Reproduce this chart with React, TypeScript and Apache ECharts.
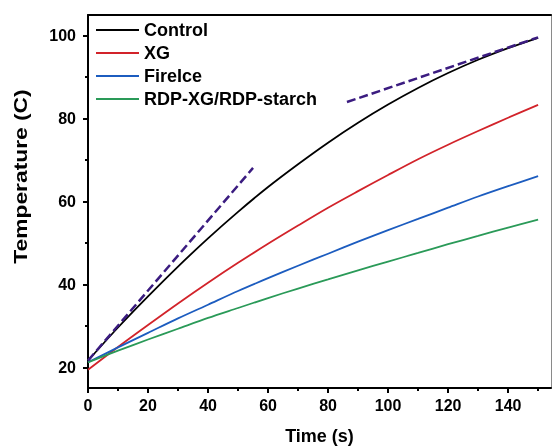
import React, { useEffect, useRef } from "react";
import * as echarts from "echarts";

const time = [0, 10, 20, 30, 40, 50, 60, 70, 80, 90, 100, 110, 120, 130, 140, 150];
const control = [21.6, 29.6, 37.1, 44.3, 51.1, 57.5, 63.5, 69.0, 74.2, 79.0, 83.4, 87.4, 91.0, 94.2, 97.0, 99.5];
const xg = [19.4, 24.9, 30.2, 35.4, 40.4, 45.2, 49.8, 54.2, 58.5, 62.5, 66.4, 70.2, 73.7, 77.0, 80.2, 83.3];
const fireIce = [21.2, 24.8, 28.3, 31.8, 35.1, 38.4, 41.5, 44.5, 47.4, 50.3, 53.1, 55.8, 58.5, 61.2, 63.7, 66.1];
const rdp = [21.2, 24.0, 26.7, 29.3, 31.9, 34.3, 36.7, 39.0, 41.2, 43.4, 45.5, 47.6, 49.7, 51.7, 53.7, 55.6];

const tangentEarly = [[0, 21.6], [55, 68.1]];
const tangentLate = [[86.3, 84.0], [150, 99.6]];

const xMajorTicks = [0, 20, 40, 60, 80, 100, 120, 140];
const xMinorTicks = [10, 30, 50, 70, 90, 110, 130, 150];
const yMajorTicks = [20, 40, 60, 80, 100];
const yMinorTicks = [30, 50, 70, 90];

const seriesNames = ["Control", "XG", "FireIce", "RDP-XG/RDP-starch"];
const seriesColors = ["#000000", "#d2232a", "#1c5cbf", "#2a9a58"];
const seriesValues = [control, xg, fireIce, rdp];

const FONT = "'Liberation Sans', Arial, sans-serif";
const X_MIN = 0, X_MAX = 154.3, Y_MIN = 15, Y_MAX = 105;

export default function App() {
  const ref = useRef<HTMLDivElement>(null);
  useEffect(() => {
    if (!ref.current) return;
    const chart = echarts.init(ref.current, null, { renderer: "svg" });
    const lineSeries = seriesNames.map((name, i) => ({
      type: "line",
      name,
      xAxisIndex: 0,
      yAxisIndex: 0,
      data: time.map((t, j) => [t, seriesValues[i][j]]),
      symbol: "none",
      showSymbol: false,
      smooth: 0.3,
      lineStyle: { color: seriesColors[i], width: 1.8 },
      itemStyle: { color: seriesColors[i] },
      z: 2,
    }));
    const dashed = [tangentEarly, tangentLate].map((d, i) => ({
      type: "line",
      name: "tangent" + i,
      xAxisIndex: 0,
      yAxisIndex: 0,
      data: d,
      symbol: "none",
      showSymbol: false,
      lineStyle: { color: "#3b1c80", width: 2.5, type: [9, 4] },
      z: 3,
    }));
    const hidden = { show: false };
    chart.setOption({
      animation: false,
      grid: { left: 88, top: 15, right: 1, bottom: 59, containLabel: false, outerBoundsMode: "none" },
      legend: {
        data: seriesNames.map((name) => ({ name, icon: "rect" })),
        orient: "vertical",
        left: 96,
        top: 21,
        padding: 0,
        itemWidth: 43,
        itemHeight: 2,
        itemGap: 5,
        textStyle: { fontFamily: FONT, fontSize: 18, fontWeight: "bold", color: "#000", lineHeight: 18 },
      },
      xAxis: [
        {
          type: "value", min: X_MIN, max: X_MAX, position: "bottom",
          axisLine: { show: true, onZero: false, lineStyle: { color: "#000", width: 2 } },
          axisTick: { show: true, customValues: xMajorTicks, length: 5, lineStyle: { color: "#000", width: 2 } },
          axisLabel: { customValues: xMajorTicks, fontFamily: FONT, fontSize: 16, fontWeight: "bold", color: "#000", margin: 9 },
          splitLine: hidden,
          name: "Time (s)", nameLocation: "middle", nameGap: 42,
          nameTextStyle: { fontFamily: FONT, fontSize: 18, fontWeight: "bold", color: "#000", lineHeight: 12, verticalAlign: "top" },
        },
        {
          type: "value", min: X_MIN, max: X_MAX, position: "bottom",
          axisLine: { show: false, onZero: false },
          axisTick: { show: true, customValues: xMinorTicks, length: 3, lineStyle: { color: "#000", width: 2 } },
          axisLabel: hidden, splitLine: hidden,
        },
        {
          type: "value", min: X_MIN, max: X_MAX, position: "top",
          axisLine: { show: true, onZero: false, lineStyle: { color: "#000", width: 2 } },
          axisTick: hidden, axisLabel: hidden, splitLine: hidden,
        },
      ],
      yAxis: [
        {
          type: "value", min: Y_MIN, max: Y_MAX, position: "left",
          axisLine: { show: true, onZero: false, lineStyle: { color: "#000", width: 2 } },
          axisTick: { show: true, customValues: yMajorTicks, length: 5, lineStyle: { color: "#000", width: 2 } },
          axisLabel: { customValues: yMajorTicks, fontFamily: FONT, fontSize: 16, fontWeight: "bold", color: "#000", margin: 12 },
          splitLine: hidden,
        },
        {
          type: "value", min: Y_MIN, max: Y_MAX, position: "left",
          axisLine: { show: false, onZero: false },
          axisTick: { show: true, customValues: yMinorTicks, length: 3, lineStyle: { color: "#000", width: 2 } },
          axisLabel: hidden, splitLine: hidden,
        },
        {
          type: "value", min: Y_MIN, max: Y_MAX, position: "right",
          axisLine: { show: true, onZero: false, lineStyle: { color: "#8a8a8a", width: 1 } },
          axisTick: hidden, axisLabel: hidden, splitLine: hidden,
        },
      ],
      graphic: [
        {
          type: "text",
          x: 20.5,
          y: 176.5,
          rotation: Math.PI / 2,
          scaleX: 1.2,
          style: {
            text: "Temperature (C)",
            fontFamily: FONT,
            fontSize: 19,
            fontWeight: "bold",
            fill: "#000",
            align: "center",
            verticalAlign: "middle",
            textAlign: "center",
            textVerticalAlign: "middle",
          },
        },
      ],
      series: [...lineSeries, ...dashed],
    });
    return () => chart.dispose();
  }, []);
  return <div ref={ref} style={{ position: "fixed", left: 0, top: 0, width: 552, height: 447 }} />;
}
